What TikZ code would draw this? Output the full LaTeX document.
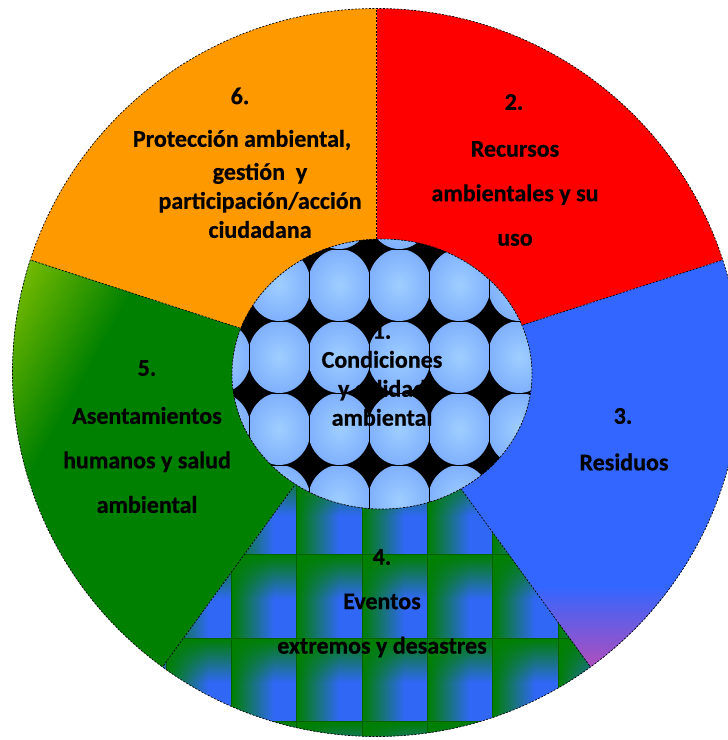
\documentclass[tikz,border=0pt]{standalone}
\usepackage{fontspec}
\setmainfont{Carlito}[BoldFont={Carlito Bold}, BoldFeatures={FakeBold=0.6}]
\usetikzlibrary{fadings}

\definecolor{red2}{RGB}{255,0,0}
\definecolor{blue3}{RGB}{51,102,255}
\definecolor{pink3}{RGB}{228,68,160}
\definecolor{tileblue}{RGB}{48,104,245}
\definecolor{tilegreen}{RGB}{0,128,0}
\definecolor{green5}{RGB}{0,128,0}
\definecolor{lime5}{RGB}{155,205,0}
\definecolor{orange6}{RGB}{255,153,0}

\pgfdeclareradialshading{sphere}{\pgfpoint{0bp}{0bp}}{rgb(0bp)=(0.62,0.81,1); rgb(50bp)=(0.38,0.57,0.98)}
\tikzfading[name=leftband, left color=transparent!0, right color=transparent!100]
\tikzfading[name=topband, top color=transparent!0, bottom color=transparent!100]

\tikzset{
  rim/.style={black, line width=0.7pt, dash pattern=on 2pt off 1.5pt},
  sectortext/.style={font=\bfseries\fontsize{24}{44.5}\selectfont, align=center, inner sep=0pt},
  tighttext/.style={font=\bfseries\fontsize{24}{29}\selectfont, align=center, inner sep=0pt},
}

\begin{document}
\begin{tikzpicture}[x=1pt,y=1pt]

  \useasboundingbox (0,0) rectangle (728,740);
  \clip (0,0) rectangle (728,740);
  \coordinate (O) at (376.5,367.5);

  \fill[red2] (O) -- ++(18:364pt) arc[start angle=18, end angle=90, radius=364pt] -- cycle;
  \fill[orange6] (O) -- ++(90:364pt) arc[start angle=90, end angle=162, radius=364pt] -- cycle;
  \fill[blue3] (O) -- ++(-54:364pt) arc[start angle=-54, end angle=18, radius=364pt] -- cycle;
  \fill[green5] (O) -- ++(162:364pt) arc[start angle=162, end angle=234, radius=364pt] -- cycle;

  \begin{scope}
    \clip (O) -- ++(-54:364pt) arc[start angle=-54, end angle=18, radius=364pt] -- cycle;
    \shade[top color=blue3, bottom color=pink3] (400,39.5) rectangle (740,153.5);
  \end{scope}

  \begin{scope}
    \clip (O) -- ++(162:364pt) arc[start angle=162, end angle=234, radius=364pt] -- cycle;
    \shade[transform canvas={rotate around={150.7:(110,480)}}, left color=green5, right color=lime5] (75,230) rectangle (215,730);
  \end{scope}

  \begin{scope}
    \clip (O) -- ++(234:364pt) arc[start angle=234, end angle=306, radius=364pt] -- cycle;
    \foreach \i in {0,...,7}
      \foreach \j in {0,...,4} {
        \fill[tileblue] (101+65.3*\i,351.6-83.3*\j) rectangle ++(65.3,-83.3);
        \fill[tilegreen, path fading=leftband] (101+65.3*\i,351.6-83.3*\j) rectangle ++(42,-83.3);
        \fill[tilegreen, path fading=topband] (101+65.3*\i,351.6-83.3*\j) rectangle ++(65.3,-44);
        \draw[tilegreen!75!black, line width=1pt] (101+65.3*\i,351.6-83.3*\j) rectangle ++(65.3,-83.3);
      }
  \end{scope}

  \foreach \a in {18,90,162,234,306}
    \draw[rim] (O) -- ++(\a:364pt);
  \draw[rim] (O) circle[radius=364pt];

  \begin{scope}
    \clip (382,366) ellipse[x radius=150pt, y radius=135pt];
    \fill[black] (382,366) ellipse[x radius=150pt, y radius=135pt];
    \foreach \i in {0,...,5}
      \foreach \j in {0,...,4} {
        \begin{scope}
          \clip (189.3+60*\i,563-72*\j) rectangle ++(60,-72);
          \shade[shading=sphere] (219.3+60*\i,527-72*\j) ellipse[x radius=31.5pt, y radius=36pt];
        \end{scope}
        \draw[black, line width=0.5pt] (189.3+60*\i,563-72*\j) rectangle ++(60,-72);
      }
  \end{scope}
  \draw[rim] (382,366) ellipse[x radius=150pt, y radius=135pt];

  \node[tighttext] (n1) at (382,365.5) {1.\\Condiciones\\y calidad\\ambiental};

  \node[sectortext] (n2) at (514,638) {2.};
  \node[sectortext] (t2) at (515,546.5) {Recursos\\ambientales y su\\uso};

  \node[sectortext] (n3) at (623,324) {3.};
  \node[sectortext] (t3) at (624,278) {Residuos};

  \node[sectortext] (n4) at (382,183) {4.};
  \node[sectortext] (t4) at (382,114.5) {Eventos\\extremos y desastres};

  \node[sectortext] (n5) at (147,372) {5.};
  \node[sectortext] (t5) at (147,280) {Asentamientos\\humanos y salud\\ambiental};

  \node[sectortext] (n6) at (240,644) {6.};
  \node[sectortext] (t6a) at (242,600) {Protección ambiental,};
  \node[tighttext] (t6) at (260,539.5) {gestión~ y\\participación/acción\\ciudadana};

\end{tikzpicture}
\end{document}
